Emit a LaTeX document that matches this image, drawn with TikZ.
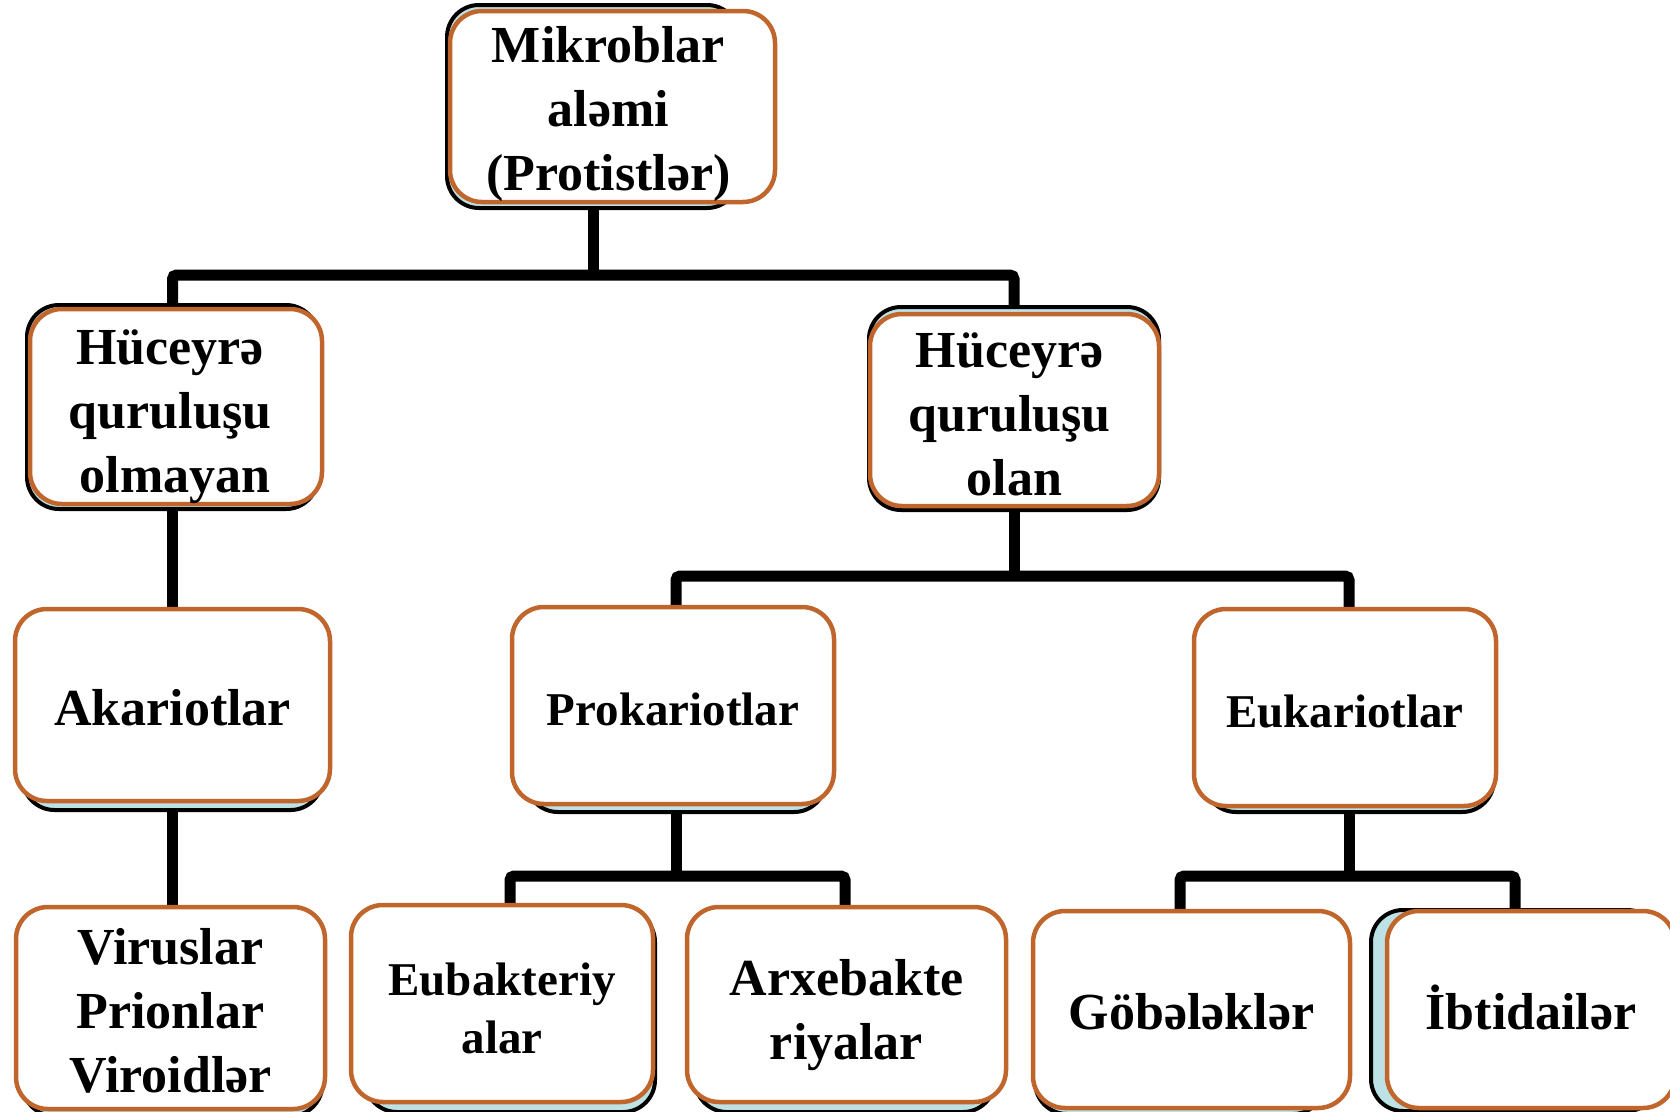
\documentclass[tikz,border=0pt]{standalone}
\usepackage{fontspec}
\setmainfont{Liberation Serif}
\usetikzlibrary{backgrounds}
\definecolor{orng}{RGB}{192,102,45}
\definecolor{lblue}{RGB}{188,226,230}
\begin{document}
\begin{tikzpicture}[x=1pt,y=-1pt,
  obox/.style={draw=orng, line width=4.5pt, rounded corners=32pt, fill=white, inner sep=0pt},
  txt/.style={inner sep=0pt, align=center, font=\bfseries\fontsize{52}{64}\selectfont},
  stxt/.style={inner sep=0pt, align=center, font=\bfseries\fontsize{47}{58}\selectfont},
  sbox/.style={draw=black, line width=4pt, rounded corners=32pt, fill=lblue, inner sep=0pt},
  conn/.style={draw=black, line width=11pt, rounded corners=4pt}
]
\useasboundingbox (0,0) rectangle (1670,1111);
% shadow boxes
\node[sbox, minimum width=292pt, minimum height=203pt] (mik-s) at (593,106.5) {};
\node[sbox, minimum width=291pt, minimum height=204pt] (huc1-s) at (172.5,407) {};
\node[sbox, minimum width=290pt, minimum height=203pt] (huc2-s) at (1014,408.5) {};
\node[sbox, minimum width=300pt, minimum height=198pt] (aka-s) at (172.5,711) {};
\node[sbox, minimum width=300pt, minimum height=200pt] (pro-s) at (676,712) {};
\node[sbox, minimum width=290pt, minimum height=198pt] (euk-s) at (1349,713) {};
\node[sbox, minimum width=300pt, minimum height=204pt] (vir-s) at (172.5,1014) {};
\node[sbox, minimum width=290pt, minimum height=202pt] (eub-s) at (510,1011) {};
\node[sbox, minimum width=300pt, minimum height=200pt] (arx-s) at (845,1012) {};
\node[sbox, minimum width=290pt, minimum height=198pt] (gob-s) at (1180,1015) {};
\node[sbox, minimum width=288pt, minimum height=201pt] (ibt-s) at (1515,1010.5) {};
% main boxes
\node[obox, minimum width=325pt, minimum height=191pt] (mik) at (612.5,106.5) {};
\node[obox, minimum width=292pt, minimum height=195pt] (huc1) at (176,406.5) {};
\node[obox, minimum width=289pt, minimum height=192pt] (huc2) at (1014.5,410) {};
\node[obox, minimum width=315pt, minimum height=192pt] (aka) at (172.5,705) {};
\node[obox, minimum width=322pt, minimum height=197pt] (pro) at (673,705.5) {};
\node[obox, minimum width=302pt, minimum height=197pt] (euk) at (1345,707.5) {};
\node[obox, minimum width=309pt, minimum height=202pt] (vir) at (170.5,1008) {};
\node[obox, minimum width=302pt, minimum height=197pt] (eub) at (502,1003.5) {};
\node[obox, minimum width=319pt, minimum height=195pt] (arx) at (846.5,1004.5) {};
\node[obox, minimum width=317pt, minimum height=197pt] (gob) at (1191.5,1009.5) {};
\node[obox, minimum width=288pt, minimum height=197pt] (ibt) at (1531,1009.5) {};
% texts
\node[txt, xshift=-4pt, yshift=-7.5pt] (mik-t) at (mik) {Mikroblar\\aləmi\\(Protistlər)};
\node[txt, xshift=-6pt, yshift=-10pt] (huc1-t) at (huc1) {Hüceyrə\\quruluşu\\\hspace{10pt}olmayan};
\node[txt, xshift=-5pt, yshift=-4.5pt] (huc2-t) at (huc2) {Hüceyrə\\quruluşu\\\hspace{10pt}olan};
\node[txt, yshift=-3pt] (aka-t) at (aka) {Akariotlar};
\node[stxt, yshift=-4pt] (pro-t) at (pro) {Prokariotlar};
\node[stxt, yshift=-4pt] (euk-t) at (euk) {Eukariotlar};
\node[txt, yshift=-3pt] (vir-t) at (vir) {Viruslar\\Prionlar\\Viroidlər};
\node[stxt, yshift=-5pt] (eub-t) at (eub) {Eubakteriy\\alar};
\node[txt, yshift=-10.5pt] (arx-t) at (arx) {Arxebakte\\riyalar};
\node[txt, yshift=-2pt] (gob-t) at (gob) {Göbələklər};
\node[txt, yshift=2pt] (ibt-t) at (ibt) {İbtidailər};
% connectors
\coordinate (y1) at (0,275);
\coordinate (y2) at (0,576);
\coordinate (y3) at (0,876);
\begin{scope}[on background layer]
\draw[conn] (mik-s.south) -- (mik-s.south |- y1);
\draw[conn] (huc1-s.north) |- (mik-s.south |- y1) -| (huc2-s.north);
\draw[conn] (huc1-s.south) -- (aka-s.north);
\draw[conn] (aka-s.south) -- (vir-s.north);
\draw[conn] (huc2-s.south) -- (huc2-s.south |- y2);
\draw[conn] (pro-s.north) |- (huc2-s.south |- y2) -| (euk-s.north);
\draw[conn] (pro-s.south) -- (pro-s.south |- y3);
\draw[conn] (eub-s.north) |- (pro-s.south |- y3) -| (arx-s.north);
\draw[conn] (euk-s.south) -- (euk-s.south |- y3);
\draw[conn] (gob-s.north) |- (euk-s.south |- y3) -| (ibt-s.north);
\end{scope}
\end{tikzpicture}
\end{document}
